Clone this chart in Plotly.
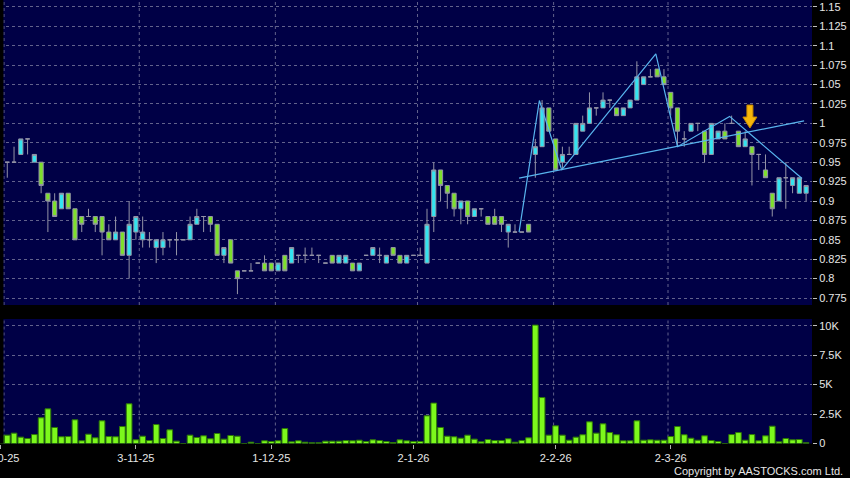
import plotly.graph_objects as go

# ---------------- data ----------------
bar_index = list(range(120))
opens = [0.95, 0.95, 0.95, 0.96, 0.98, 0.95, 0.95, 0.91, 0.90, 0.89,
         0.91, 0.89, 0.88, 0.88, 0.88, 0.88, 0.86, 0.85, 0.86, 0.83,
         0.86, 0.85, 0.85, 0.84, 0.84, 0.85, 0.85, 0.85, 0.85, 0.87,
         0.88, 0.88, 0.87, 0.83, 0.85, 0.81, 0.81, 0.81, 0.82, 0.82,
         0.82, 0.81, 0.83, 0.82, 0.83, 0.83, 0.83, 0.83, 0.82, 0.83,
         0.82, 0.82, 0.82, 0.81, 0.83, 0.83, 0.83, 0.82, 0.84, 0.83,
         0.82, 0.83, 0.83, 0.82, 0.88, 0.94, 0.92, 0.91, 0.89, 0.90,
         0.88, 0.89, 0.88, 0.88, 0.88, 0.86, 0.86, 0.86, 0.87, 0.96,
         0.97, 1.02, 0.98, 0.95, 0.96, 0.96, 0.99, 1.00, 1.02, 1.02,
         1.03, 1.02, 1.01, 1.02, 1.03, 1.05, 1.06, 1.07, 1.06, 1.04,
         1.02, 0.98, 0.99, 1.00, 0.99, 0.96, 0.98, 0.99, 1.00, 0.99,
         0.97, 0.97, 0.96, 0.94, 0.91, 0.90, 0.93, 0.92, 0.91, 0.91]
highs = [0.95, 0.95, 0.97, 0.98, 0.98, 0.96, 0.95, 0.91, 0.91, 0.91,
         0.91, 0.89, 0.88, 0.89, 0.88, 0.88, 0.87, 0.88, 0.86, 0.90,
         0.88, 0.88, 0.86, 0.85, 0.86, 0.85, 0.86, 0.85, 0.88, 0.89,
         0.88, 0.88, 0.87, 0.84, 0.85, 0.81, 0.81, 0.82, 0.82, 0.83,
         0.82, 0.82, 0.83, 0.84, 0.83, 0.84, 0.84, 0.83, 0.82, 0.83,
         0.83, 0.83, 0.82, 0.82, 0.83, 0.84, 0.84, 0.83, 0.84, 0.83,
         0.83, 0.83, 0.84, 0.89, 0.95, 0.94, 0.92, 0.91, 0.90, 0.90,
         0.89, 0.89, 0.88, 0.89, 0.88, 0.87, 0.87, 0.86, 0.87, 0.98,
         1.03, 1.02, 0.98, 0.97, 0.97, 1.00, 1.01, 1.04, 1.02, 1.04,
         1.03, 1.02, 1.02, 1.03, 1.08, 1.06, 1.07, 1.07, 1.07, 1.04,
         1.02, 0.99, 1.00, 1.00, 0.99, 1.00, 0.99, 1.00, 1.01, 0.99,
         0.99, 0.97, 0.96, 0.96, 0.91, 0.93, 0.95, 0.93, 0.93, 0.92]
lows = [0.95, 0.93, 0.95, 0.96, 0.96, 0.95, 0.91, 0.86, 0.88, 0.89,
        0.89, 0.85, 0.86, 0.88, 0.86, 0.83, 0.85, 0.85, 0.83, 0.80,
        0.85, 0.84, 0.84, 0.82, 0.83, 0.84, 0.83, 0.85, 0.85, 0.87,
        0.86, 0.86, 0.83, 0.82, 0.82, 0.78, 0.81, 0.81, 0.82, 0.81,
        0.81, 0.81, 0.81, 0.82, 0.82, 0.82, 0.83, 0.82, 0.82, 0.82,
        0.82, 0.82, 0.81, 0.81, 0.83, 0.83, 0.82, 0.82, 0.83, 0.82,
        0.82, 0.83, 0.83, 0.82, 0.86, 0.90, 0.89, 0.88, 0.87, 0.87,
        0.88, 0.88, 0.87, 0.87, 0.86, 0.84, 0.86, 0.86, 0.86, 0.93,
        0.97, 0.99, 0.94, 0.94, 0.96, 0.96, 0.99, 1.00, 1.01, 1.02,
        1.02, 1.01, 1.01, 1.02, 1.03, 1.05, 1.06, 1.06, 1.05, 1.01,
        0.97, 0.97, 0.99, 0.99, 0.95, 0.96, 0.98, 0.98, 1.00, 0.97,
        0.97, 0.92, 0.94, 0.93, 0.88, 0.90, 0.89, 0.91, 0.91, 0.90]
closes = [0.95, 0.95, 0.95, 0.98, 0.98, 0.96, 0.92, 0.90, 0.88, 0.91,
          0.89, 0.85, 0.87, 0.88, 0.87, 0.86, 0.85, 0.86, 0.83, 0.87,
          0.88, 0.86, 0.85, 0.85, 0.85, 0.85, 0.85, 0.85, 0.87, 0.88,
          0.88, 0.87, 0.83, 0.84, 0.82, 0.80, 0.81, 0.81, 0.82, 0.81,
          0.81, 0.82, 0.81, 0.84, 0.83, 0.83, 0.83, 0.83, 0.82, 0.82,
          0.83, 0.83, 0.81, 0.82, 0.83, 0.84, 0.83, 0.83, 0.83, 0.82,
          0.83, 0.83, 0.83, 0.87, 0.94, 0.92, 0.91, 0.89, 0.90, 0.88,
          0.89, 0.89, 0.87, 0.87, 0.87, 0.87, 0.86, 0.86, 0.86, 0.97,
          1.02, 0.99, 0.94, 0.96, 0.96, 1.00, 1.00, 1.02, 1.02, 1.03,
          1.03, 1.01, 1.02, 1.03, 1.06, 1.06, 1.06, 1.06, 1.05, 1.02,
          0.99, 0.98, 1.00, 1.00, 0.96, 1.00, 0.99, 0.98, 1.00, 0.97,
          0.98, 0.96, 0.96, 0.93, 0.89, 0.93, 0.93, 0.93, 0.93, 0.92]
volumes = [700, 710, 880, 540, 425, 760, 2180, 2940, 1360, 570,
           590, 2010, 230, 790, 480, 1925, 590, 570, 1440, 3370,
           310, 620, 255, 1610, 425, 1160, 200, 0, 710, 510,
           650, 400, 850, 370, 680, 620, 0, 110, 0, 230,
           170, 230, 1270, 140, 230, 110, 60, 60, 200, 200,
           200, 255, 230, 280, 170, 310, 255, 170, 85, 310,
           230, 170, 170, 2350, 3430, 1360, 620, 570, 450, 710,
           370, 140, 340, 255, 255, 400, 110, 255, 480, 10050,
           3900, 710, 1500, 710, 280, 540, 740, 1840, 880, 1670,
           930, 740, 230, 230, 1925, 280, 310, 280, 280, 590,
           1440, 740, 450, 280, 650, 255, 170, 0, 760, 930,
           280, 760, 230, 650, 1470, 140, 425, 310, 340, 60]

date_tick_index = [0, 20, 40, 61, 82, 99]
date_tick_text = ["2-10-25", "3-11-25", "1-12-25", "2-1-26", "2-2-26", "2-3-26"]
date_grid_index = [0.52, 20.5, 40.6, 61.6, 81.7, 98.6]
price_tick_vals = [0.775, 0.8, 0.825, 0.85, 0.875, 0.9, 0.925, 0.95, 0.975,
                   1.0, 1.025, 1.05, 1.075, 1.1, 1.125, 1.15]
price_tick_text = ["0.775", "0.8", "0.825", "0.85", "0.875", "0.9", "0.925", "0.95",
                   "0.975", "1", "1.025", "1.05", "1.075", "1.1", "1.125", "1.15"]
vol_tick_vals = [0, 2500, 5000, 7500, 10000]
vol_tick_text = ["0", "2.5K", "5K", "7.5K", "10K"]

# drawn analysis lines (bar index, price)
zigzag_index = [76.6, 79.6, 82.9, 96.8, 100.0, 107.7, 118.4]
zigzag_price = [0.860, 1.0295, 0.940, 1.0897, 0.970, 1.009, 0.929]
trend_index = [76.6, 118.7]
trend_price = [0.9295, 1.0033]
arrow_index = 110.7
arrow_tip_price = 0.994

# ---------------- figure ----------------
W, H = 850, 478
plot_right = 812
x_range = [-0.074, 119.87]
p_range = [0.766, 1.159]
v_range = [0, 10570]
px_per_bar = plot_right / (x_range[1] - x_range[0])
px_per_price = 305 / (p_range[1] - p_range[0])

wick = "#9494a6"
fig = go.Figure()
fig.add_trace(go.Candlestick(
    x=bar_index, open=opens, high=highs, low=lows, close=closes,
    increasing=dict(fillcolor="#33e4f0", line=dict(color=wick, width=1)),
    decreasing=dict(fillcolor="#7ee02c", line=dict(color=wick, width=1)),
    whiskerwidth=0, xaxis="x", yaxis="y", hoverinfo="skip", showlegend=False))

fig.add_trace(go.Scatter(x=zigzag_index, y=zigzag_price, mode="lines",
                         line=dict(color="#58b4ee", width=1.2),
                         xaxis="x", yaxis="y", hoverinfo="skip", showlegend=False))
fig.add_trace(go.Scatter(x=trend_index, y=trend_price, mode="lines",
                         line=dict(color="#58b4ee", width=1.2),
                         xaxis="x", yaxis="y", hoverinfo="skip", showlegend=False))

# block arrow built around its anchor point (pixel offsets converted to data units)
arrow_shape_px = [(0, 0), (7, 11), (3, 11), (3, 23), (-3, 23), (-3, 11), (-7, 11), (0, 0)]
fig.add_trace(go.Scatter(
    x=[arrow_index + dx / px_per_bar for dx, dy in arrow_shape_px],
    y=[arrow_tip_price + dy / px_per_price for dx, dy in arrow_shape_px],
    mode="lines", fill="toself", fillcolor="#f6b60a",
    line=dict(color="#c88a00", width=1),
    xaxis="x", yaxis="y", hoverinfo="skip", showlegend=False))

fig.add_trace(go.Bar(x=bar_index, y=volumes, width=0.84,
                     marker=dict(color="#7cf81c", line=dict(color="#2e7a06", width=1)),
                     xaxis="x2", yaxis="y2", hoverinfo="skip", showlegend=False))

grid_col = "#62628c"
font_col = "#e6e6e6"
fam = "Liberation Sans, Arial, sans-serif"
xdom = [0, plot_right / W]
p_dom = [1 - 305 / H, 1]
v_dom = [1 - 443.5 / H, 1 - 319 / H]

fig.update_layout(
    width=W, height=H, margin=dict(l=0, r=0, t=0, b=0, autoexpand=False),
    paper_bgcolor="#000000", plot_bgcolor="#000046",
    boxgap=0.12, bargap=0.2,
    font=dict(family=fam, size=11, color=font_col),
    xaxis=dict(domain=xdom, range=x_range, anchor="y", showticklabels=False,
               showgrid=False, zeroline=False, rangeslider=dict(visible=False),
               fixedrange=True, automargin=False),
    xaxis2=dict(domain=xdom, range=x_range, anchor="y2", matches="x",
                tickvals=date_tick_index, ticktext=date_tick_text,
                ticks="outside", ticklen=4, tickcolor="#b0b0b0",
                ticklabeloverflow="allow", automargin=False,
                showgrid=False, zeroline=False, tickfont=dict(size=11, color=font_col)),
    yaxis=dict(domain=p_dom, range=p_range, side="right", anchor="x",
               tickvals=price_tick_vals, ticktext=price_tick_text,
               ticks="outside", ticklen=4, tickcolor="#c0c0c0", automargin=False,
               showgrid=True, gridcolor=grid_col, griddash="3px,3px", gridwidth=1,
               zeroline=False, tickfont=dict(size=11, color=font_col)),
    yaxis2=dict(domain=v_dom, range=v_range, side="right", anchor="x2",
                tickvals=vol_tick_vals, ticktext=vol_tick_text,
                ticks="outside", ticklen=4, tickcolor="#c0c0c0", automargin=False,
                showgrid=True, gridcolor=grid_col, griddash="3px,3px", gridwidth=1,
                zeroline=False, tickfont=dict(size=11, color=font_col)),
)

shapes = []
for dom in (p_dom, v_dom):
    shapes.append(dict(type="rect", xref="paper", yref="paper", x0=0, x1=3.4 / W,
                       y0=dom[0], y1=dom[1], fillcolor="#000000",
                       line=dict(width=0), layer="above"))
for g in date_grid_index:
    for xr, yr in (("x", "y domain"), ("x2", "y2 domain")):
        shapes.append(dict(type="line", xref=xr, yref=yr, x0=g, x1=g,
                           y0=0, y1=1, line=dict(color=grid_col, width=1, dash="3px,3px"),
                           layer="below"))
fig.update_layout(shapes=shapes)

fig.add_annotation(text="Copyright by AASTOCKS.com Ltd.", xref="paper", yref="paper",
                   x=845 / W, y=1 - 471 / H, xanchor="right", yanchor="middle",
                   showarrow=False, font=dict(size=11, color=font_col, family=fam))

page_fix = (
    "var de=document.documentElement, b=document.body;"
    "de.style.margin='0';de.style.padding='0';de.style.background='#000';"
    "b.style.margin='0';b.style.padding='0';b.style.overflow='hidden';"
    "b.style.background='#000';"
)
fig.write_html("out.html", config={"displayModeBar": False}, post_script=page_fix)
